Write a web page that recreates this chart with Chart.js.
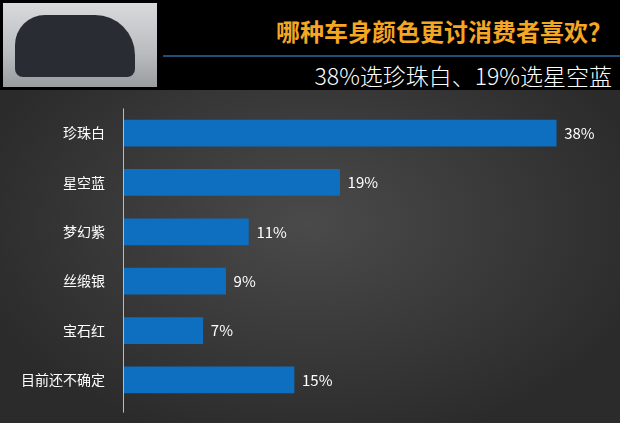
<!DOCTYPE html><html><head><meta charset="utf-8">
<script src="https://cdn.jsdelivr.net/npm/chart.js@4"></script>
<style>
body{margin:0;width:620px;height:423px;overflow:hidden;background:#000;font-family:"Noto Sans CJK SC",sans-serif}
#hd{position:relative;height:90px;background:#000}
#photo{position:absolute;left:3px;top:3px;width:154px;height:84px;background:linear-gradient(#d8dadc,#b9bcbf 60%,#9a9d9f);}
#car{position:absolute;left:12px;top:12px;width:120px;height:62px;background:#2a2c33;border-radius:30px 40px 8px 8px}
#line{position:absolute;left:163px;right:0;top:55px;height:2px;background:#1f4e79}
#t1{position:absolute;right:8px;top:16px;color:#f5a623;font-size:24px;font-weight:bold;line-height:30px}
#t2{position:absolute;right:8px;top:60px;color:#fff;font-size:23px;font-weight:300;line-height:30px}
#cw{position:relative;height:333px;background:radial-gradient(ellipse at 50% 40%,#4a4a4a,#2b2b2b 80%)}
</style></head><body>
<div id="hd"><div id="photo"><div id="car"></div></div><div id="line"></div>
<div id="t1">哪种车身颜色更讨消费者喜欢？</div><div id="t2">38%选珍珠白、19%选星空蓝</div></div>
<div id="cw"><canvas id="c"></canvas></div>
<script>
const categories=["珍珠白","星空蓝","梦幻紫","丝缎银","宝石红","目前还不确定"];
const values=[38,19,11,9,7,15];
const valueLabels=["38%","19%","11%","9%","7%","15%"];
const lbl={id:'lbl',afterDatasetsDraw(ch){const ctx=ch.ctx;ctx.save();ctx.fillStyle='#fff';ctx.font='15px "Noto Sans CJK SC"';ctx.textBaseline='middle';
ch.getDatasetMeta(0).data.forEach((b,i)=>ctx.fillText(valueLabels[i],b.x+8,b.y));
const a=ch.chartArea;ctx.strokeStyle='#bbb';ctx.lineWidth=1;ctx.beginPath();ctx.moveTo(a.left+0.5,a.top);ctx.lineTo(a.left+0.5,a.bottom+8);ctx.stroke();ctx.restore();}};
new Chart(document.getElementById('c'),{type:'bar',data:{labels:categories,datasets:[{data:values,backgroundColor:'#0e6fc1',barThickness:26}]},
options:{indexAxis:'y',responsive:true,maintainAspectRatio:false,animation:false,layout:{padding:{top:6,right:41,bottom:8,left:0}},
plugins:{legend:{display:false},tooltip:{enabled:false}},
scales:{x:{display:false,min:0,max:40},y:{grid:{display:false},border:{display:false},ticks:{color:'#fff',font:{size:14,family:'"Noto Sans CJK SC"'},padding:10},afterFit(s){s.width=123;}}}},plugins:[lbl]});
</script></body></html>
